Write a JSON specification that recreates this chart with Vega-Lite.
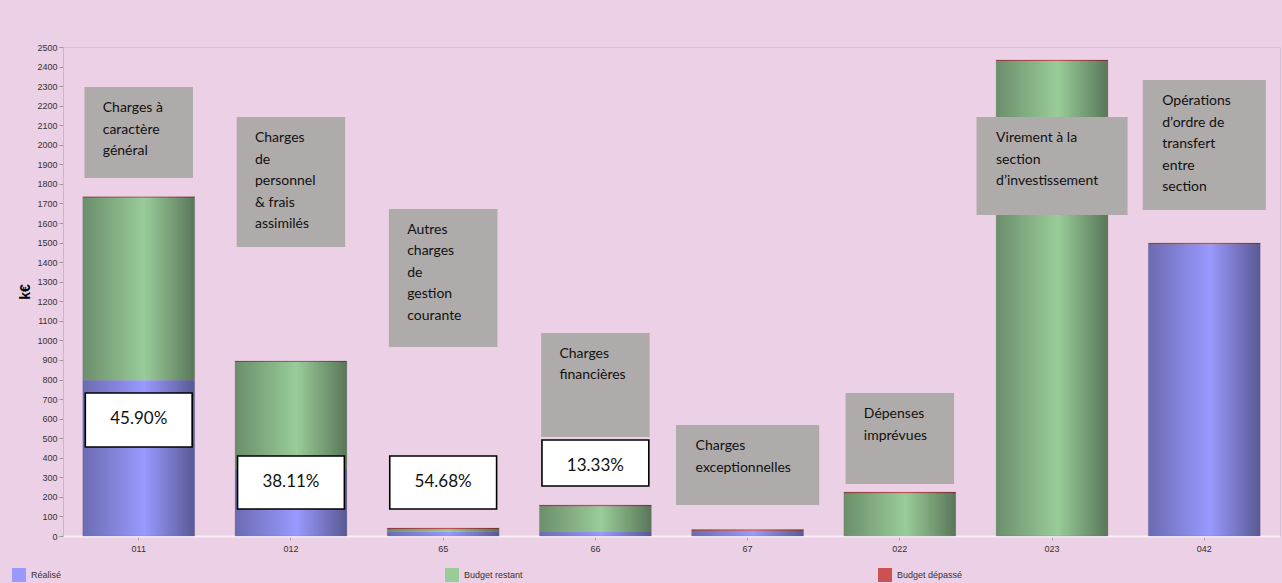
{
  "$schema": "https://vega.github.io/schema/vega-lite/v6.json",
  "width": 1217,
  "height": 489,
  "autosize": {"type": "none"},
  "padding": {"left": 63, "top": 47, "right": 2, "bottom": 47},
  "background": "#ECD0E6",
  "config": {
    "view": {"stroke": "#d6c0d2", "fill": "#ECD0E6"},
    "font": "Liberation Sans"
  },
  "datasets": {
    "budget": [
      {"chapitre": "011", "serie": "Réalisé", "montant": 796},
      {"chapitre": "011", "serie": "Budget restant", "montant": 933},
      {"chapitre": "011", "serie": "Budget dépassé", "montant": 6},
      {"chapitre": "012", "serie": "Réalisé", "montant": 341},
      {"chapitre": "012", "serie": "Budget restant", "montant": 548},
      {"chapitre": "012", "serie": "Budget dépassé", "montant": 6},
      {"chapitre": "65", "serie": "Réalisé", "montant": 22},
      {"chapitre": "65", "serie": "Budget restant", "montant": 13},
      {"chapitre": "65", "serie": "Budget dépassé", "montant": 6},
      {"chapitre": "66", "serie": "Réalisé", "montant": 21},
      {"chapitre": "66", "serie": "Budget restant", "montant": 131},
      {"chapitre": "66", "serie": "Budget dépassé", "montant": 6},
      {"chapitre": "67", "serie": "Réalisé", "montant": 25},
      {"chapitre": "67", "serie": "Budget restant", "montant": 2},
      {"chapitre": "67", "serie": "Budget dépassé", "montant": 6},
      {"chapitre": "022", "serie": "Réalisé", "montant": 2},
      {"chapitre": "022", "serie": "Budget restant", "montant": 217},
      {"chapitre": "022", "serie": "Budget dépassé", "montant": 6},
      {"chapitre": "023", "serie": "Réalisé", "montant": 0},
      {"chapitre": "023", "serie": "Budget restant", "montant": 2428},
      {"chapitre": "023", "serie": "Budget dépassé", "montant": 6},
      {"chapitre": "042", "serie": "Réalisé", "montant": 1492},
      {"chapitre": "042", "serie": "Budget restant", "montant": 0},
      {"chapitre": "042", "serie": "Budget dépassé", "montant": 6}
    ],
    "boites": [
      {"chapitre": "011", "haut": 2295, "bas": 1830, "libelle": "Charges à\ncaractère\ngénéral"},
      {"chapitre": "012", "haut": 2142, "bas": 1477, "libelle": "Charges\nde\npersonnel\n& frais\nassimilés"},
      {"chapitre": "65", "haut": 1672, "bas": 966, "libelle": "Autres\ncharges\nde\ngestion\ncourante"},
      {"chapitre": "66", "haut": 1038, "bas": 506, "libelle": "Charges\nfinancières"},
      {"chapitre": "67", "haut": 567, "bas": 158, "libelle": "Charges\nexceptionnelles"},
      {"chapitre": "022", "haut": 731, "bas": 266, "libelle": "Dépenses\nimprévues"},
      {"chapitre": "023", "haut": 2142, "bas": 1641, "libelle": "Virement à la\nsection\nd’investissement"},
      {"chapitre": "042", "haut": 2331, "bas": 1667, "libelle": "Opérations\nd’ordre de\ntransfert\nentre\nsection"}
    ],
    "taux": [
      {"chapitre": "011", "haut": 731, "bas": 455, "pct": "45.90%"},
      {"chapitre": "012", "haut": 409, "bas": 138, "pct": "38.11%"},
      {"chapitre": "65", "haut": 409, "bas": 138, "pct": "54.68%"},
      {"chapitre": "66", "haut": 491, "bas": 256, "pct": "13.33%"}
    ]
  },
  "encoding": {
    "x": {
      "field": "chapitre",
      "type": "nominal",
      "scale": {
        "domain": ["011", "012", "65", "66", "67", "022", "023", "042"],
        "paddingInner": 0.265,
        "paddingOuter": 0.13
      },
      "axis": {
        "title": null,
        "labelAngle": 0,
        "labelFontSize": 9,
        "labelColor": "#333333",
        "labelPadding": 4,
        "tickColor": "#aaaaaa",
        "tickSize": 4,
        "domainColor": "#f8f0f6",
        "domainWidth": 2
      }
    }
  },
  "layer": [
    {
      "data": {"name": "budget"},
      "mark": {"type": "bar"},
      "encoding": {
        "y": {
          "field": "montant",
          "type": "quantitative",
          "stack": "zero",
          "title": "k€",
          "scale": {"domain": [0, 2500], "nice": false},
          "axis": {
            "tickCount": 25,
            "format": "d",
            "grid": false,
            "labelFontSize": 9,
            "labelColor": "#333333",
            "tickColor": "#999999",
            "tickSize": 4,
            "labelPadding": 2,
            "domainColor": "#c9b6c6",
            "titleFontSize": 14,
            "titleFontWeight": "bold",
            "titleColor": "#000000",
            "titlePadding": 4
          }
        },
        "color": {
          "field": "serie",
          "type": "nominal",
          "scale": {
            "domain": ["Réalisé", "Budget restant", "Budget dépassé"],
            "range": ["#9999FF", "#99CC99", "#CC5252"]
          },
          "legend": {
            "title": null,
            "orient": "none",
            "legendX": -51,
            "legendY": 521,
            "direction": "horizontal",
            "columns": 3,
            "gridAlign": "all",
            "columnPadding": 348,
            "symbolType": "square",
            "symbolSize": 196,
            "symbolStrokeWidth": 0,
            "labelFontSize": 9,
            "labelColor": "#333333",
            "labelOffset": 5
          }
        },
        "order": {"field": "serie", "sort": "descending"}
      }
    },
    {
      "data": {"name": "budget"},
      "mark": {
        "type": "bar",
        "fill": {
          "gradient": "linear",
          "x1": 0, "y1": 0, "x2": 1, "y2": 0,
          "stops": [
            {"offset": 0, "color": "rgba(0,0,0,0.30)"},
            {"offset": 0.55, "color": "rgba(0,0,0,0)"},
            {"offset": 1, "color": "rgba(0,0,0,0.42)"}
          ]
        },
        "stroke": "#7a6a80",
        "strokeWidth": 0.6,
        "strokeOpacity": 0.35
      },
      "encoding": {
        "y": {"aggregate": "sum", "field": "montant", "type": "quantitative", "title": "k€"}
      }
    },
    {
      "data": {"name": "boites"},
      "transform": [{"filter": "indexof(['011','012','65','66','022'], datum.chapitre) >= 0"}],
      "layer": [
        {
          "mark": {"type": "bar", "color": "#AFABAB", "width": {"band": 0.97}},
          "encoding": {
            "y": {"field": "haut", "type": "quantitative", "title": "k€"},
            "y2": {"field": "bas"}
          }
        },
        {
          "mark": {"type": "text", "align": "left", "baseline": "alphabetic", "dx": -36, "dy": 25, "font": "Lato", "fontSize": 14, "lineHeight": 21.5, "lineBreak": "\n", "color": "#111111"},
          "encoding": {
            "y": {"field": "haut", "type": "quantitative", "title": "k€"},
            "text": {"field": "libelle"}
          }
        }
      ]
    },
    {
      "data": {"name": "boites"},
      "transform": [{"filter": "datum.chapitre == '67'"}],
      "layer": [
        {
          "mark": {"type": "bar", "color": "#AFABAB", "width": {"band": 1.28}},
          "encoding": {
            "y": {"field": "haut", "type": "quantitative", "title": "k€"},
            "y2": {"field": "bas"}
          }
        },
        {
          "mark": {"type": "text", "align": "left", "baseline": "alphabetic", "dx": -52, "dy": 25, "font": "Lato", "fontSize": 14, "lineHeight": 21.5, "lineBreak": "\n", "color": "#111111"},
          "encoding": {
            "y": {"field": "haut", "type": "quantitative", "title": "k€"},
            "text": {"field": "libelle"}
          }
        }
      ]
    },
    {
      "data": {"name": "boites"},
      "transform": [{"filter": "datum.chapitre == '023'"}],
      "layer": [
        {
          "mark": {"type": "bar", "color": "#AFABAB", "width": {"band": 1.35}},
          "encoding": {
            "y": {"field": "haut", "type": "quantitative", "title": "k€"},
            "y2": {"field": "bas"}
          }
        },
        {
          "mark": {"type": "text", "align": "left", "baseline": "alphabetic", "dx": -56, "dy": 25, "font": "Lato", "fontSize": 14, "lineHeight": 21.5, "lineBreak": "\n", "color": "#111111"},
          "encoding": {
            "y": {"field": "haut", "type": "quantitative", "title": "k€"},
            "text": {"field": "libelle"}
          }
        }
      ]
    },
    {
      "data": {"name": "boites"},
      "transform": [{"filter": "datum.chapitre == '042'"}],
      "layer": [
        {
          "mark": {"type": "bar", "color": "#AFABAB", "width": {"band": 1.1}},
          "encoding": {
            "y": {"field": "haut", "type": "quantitative", "title": "k€"},
            "y2": {"field": "bas"}
          }
        },
        {
          "mark": {"type": "text", "align": "left", "baseline": "alphabetic", "dx": -42, "dy": 25, "font": "Lato", "fontSize": 14, "lineHeight": 21.5, "lineBreak": "\n", "color": "#111111"},
          "encoding": {
            "y": {"field": "haut", "type": "quantitative", "title": "k€"},
            "text": {"field": "libelle"}
          }
        }
      ]
    },
    {
      "data": {"name": "taux"},
      "layer": [
        {
          "mark": {"type": "bar", "fill": "#FFFFFF", "stroke": "#000000", "strokeWidth": 1.6, "width": {"band": 0.955}},
          "encoding": {
            "y": {"field": "haut", "type": "quantitative", "title": "k€"},
            "y2": {"field": "bas"}
          }
        },
        {
          "mark": {"type": "text", "align": "center", "baseline": "middle", "dy": 26, "font": "Lato", "fontSize": 17, "color": "#111111"},
          "encoding": {
            "y": {"field": "haut", "type": "quantitative", "title": "k€"},
            "text": {"field": "pct"}
          }
        }
      ]
    }
  ]
}
